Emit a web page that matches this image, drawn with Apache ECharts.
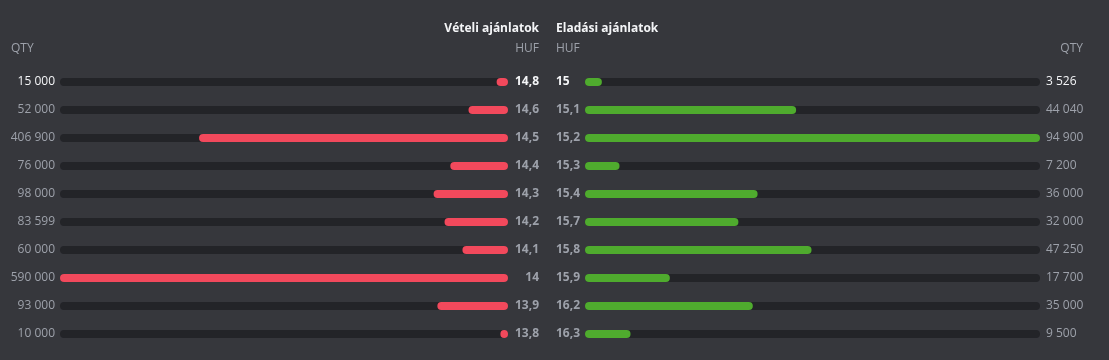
<!DOCTYPE html>
<html><head><meta charset="utf-8">
<script src="https://cdn.jsdelivr.net/npm/echarts@6/dist/echarts.min.js"></script>
<style>html,body{margin:0;padding:0;background:#36373c;}#c{width:1109px;height:360px;}</style>
</head><body><div id="c"></div>
<script>
const bidPrices = [14.8, 14.6, 14.5, 14.4, 14.3, 14.2, 14.1, 14, 13.9, 13.8];
const bidQty = [15000, 52000, 406900, 76000, 98000, 83599, 60000, 590000, 93000, 10000];
const askPrices = [15, 15.1, 15.2, 15.3, 15.4, 15.7, 15.8, 15.9, 16.2, 16.3];
const askQty = [3526, 44040, 94900, 7200, 36000, 32000, 47250, 17700, 35000, 9500];
const titles = { bid: 'Vételi ajánlatok', ask: 'Eladási ajánlatok', unit: 'HUF', qty: 'QTY' };

const FONT = '"Open Sans", "Noto Sans", sans-serif';
const GRAY = '#9da1aa';
const WHITE = '#f4f5f7';
const fmtQty = v => String(v).replace(/\B(?=(\d{3})+(?!\d))/g, ' ');
const fmtPrice = v => String(v).replace('.', ',');

function labelStyle(bold, align, width) {
  const mk = (color, weight) => Object.assign({ color, fontWeight: weight, fontSize: 12, fontFamily: FONT }, width ? { width, align } : {});
  return {
    formatter: (val, idx) => (idx === 0 ? '{h|' : '{n|') + val + '}',
    rich: { h: mk(WHITE, bold ? 'bold' : 'normal'), n: mk(GRAY, bold ? 'bold' : 'normal') }
  };
}

const gTop = 68, gBottom = 12;
const chart = echarts.init(document.getElementById('c'), null, { renderer: 'canvas' });
const hidden = { axisLine: { show: false }, axisTick: { show: false }, splitLine: { show: false } };

chart.setOption({
  backgroundColor: '#36373c',
  animation: false,
  grid: [
    { left: 60, width: 448, top: gTop, bottom: gBottom },
    { left: 585, width: 455, top: gTop, bottom: gBottom }
  ],
  xAxis: [
    Object.assign({ gridIndex: 0, type: 'value', min: 0, max: Math.max(...bidQty), inverse: true, axisLabel: { show: false } }, hidden),
    Object.assign({ gridIndex: 1, type: 'value', min: 0, max: Math.max(...askQty), axisLabel: { show: false } }, hidden)
  ],
  yAxis: [
    Object.assign({ gridIndex: 0, type: 'category', inverse: true, position: 'left', data: bidQty.map(fmtQty),
      axisLabel: Object.assign({ margin: 5, fontFamily: FONT }, labelStyle(false)) }, hidden),
    Object.assign({ gridIndex: 0, type: 'category', inverse: true, position: 'right', data: bidPrices.map(fmtPrice),
      axisLabel: Object.assign({ margin: 4, fontFamily: FONT }, labelStyle(true, 'right', 27)) }, hidden),
    Object.assign({ gridIndex: 1, type: 'category', inverse: true, position: 'left', data: askPrices.map(fmtPrice),
      axisLabel: Object.assign({ margin: 2, fontFamily: FONT }, labelStyle(true, 'left', 27)) }, hidden),
    Object.assign({ gridIndex: 1, type: 'category', inverse: true, position: 'right', data: askQty.map(fmtQty),
      axisLabel: Object.assign({ margin: 6, fontFamily: FONT }, labelStyle(false)) }, hidden)
  ],
  series: [
    { type: 'bar', xAxisIndex: 0, yAxisIndex: 0, data: bidQty, barWidth: 8,
      itemStyle: { color: '#f2495c', borderRadius: 4 },
      showBackground: true, backgroundStyle: { color: '#232428', borderRadius: 4 } },
    { type: 'bar', xAxisIndex: 1, yAxisIndex: 2, data: askQty, barWidth: 8,
      itemStyle: { color: '#4fab2e', borderRadius: 4 },
      showBackground: true, backgroundStyle: { color: '#232428', borderRadius: 4 } }
  ],
  graphic: [
    { type: 'text', right: 1109 - 539, top: 23, style: { text: titles.bid, fill: WHITE, font: 'bold 12px ' + FONT, textAlign: 'right' } },
    { type: 'text', left: 556, top: 23, style: { text: titles.ask, fill: WHITE, font: 'bold 12px ' + FONT } },
    { type: 'text', right: 1109 - 539, top: 43, style: { text: titles.unit, fill: GRAY, font: '12px ' + FONT } },
    { type: 'text', left: 556, top: 43, style: { text: titles.unit, fill: GRAY, font: '12px ' + FONT } },
    { type: 'text', left: 11, top: 43, style: { text: titles.qty, fill: GRAY, font: '12px ' + FONT } },
    { type: 'text', right: 1109 - 1083, top: 43, style: { text: titles.qty, fill: GRAY, font: '12px ' + FONT } }
  ]
});
</script></body></html>
